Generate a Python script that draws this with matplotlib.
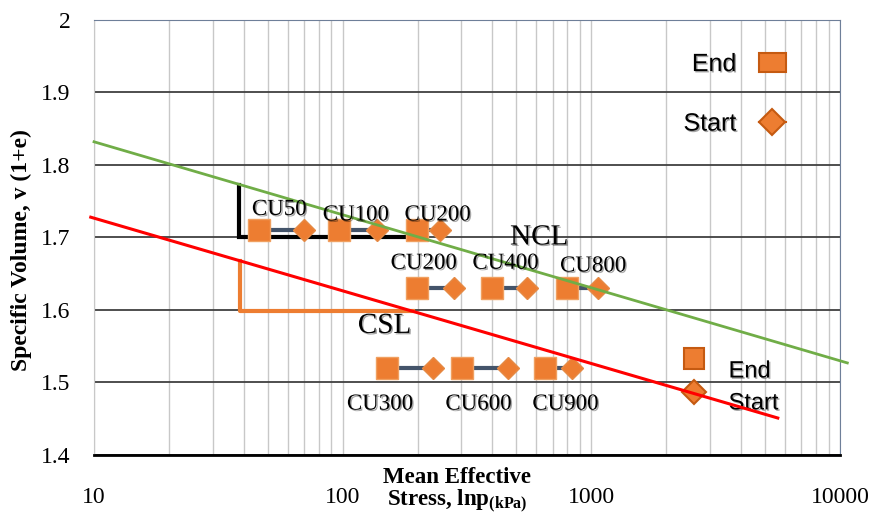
import matplotlib
matplotlib.use('Agg')
import matplotlib.pyplot as plt
import matplotlib.patheffects as pe
from matplotlib.lines import Line2D
from matplotlib.patches import Patch
from matplotlib.legend_handler import HandlerPatch, HandlerLine2D
from matplotlib.ticker import FormatStrFormatter, FixedLocator

plt.rcParams['font.family'] = 'Liberation Serif'
plt.rcParams['mathtext.fontset'] = 'custom'
plt.rcParams['mathtext.rm'] = 'Liberation Serif'
plt.rcParams['mathtext.bf'] = 'Liberation Serif:bold'

# CU tests: end (square) and start (diamond) states
tests = ['CU50', 'CU100', 'CU200', 'CU200', 'CU400', 'CU800', 'CU300', 'CU600', 'CU900']
p_end = [46, 97, 199, 199, 398, 798, 151, 302, 650]
p_start = [70, 137, 246, 281, 551, 1064, 231, 462, 836]
v_test = [1.71, 1.71, 1.71, 1.63, 1.63, 1.63, 1.52, 1.52, 1.52]

# normal consolidation line and critical state line
ncl_p = [10, 10700]
ncl_v = [1.832, 1.527]
csl_p = [9.7, 5620]
csl_v = [1.728, 1.451]

# slope triangles
ncl_tri_p = [38.3, 38.3, 205]
ncl_tri_v = [1.773, 1.70, 1.70]
csl_tri_p = [38.6, 38.6, 192]
csl_tri_v = [1.667, 1.598, 1.598]

yticks = [1.4, 1.5, 1.6, 1.7, 1.8, 1.9, 2.0]
xticks = [10, 100, 1000, 10000]

# label offsets (points) from the end marker
lab_off = [(-5, 15), (-12, 11), (-9, 11), (-19, 18), (-14, 18), (-5, 16),
           (-29, -26), (-12, -26), (-9, -26)]

orange = '#ED7D31'
dark_orange = '#C55A11'
slate = '#44546A'

shadow = [pe.SimplePatchShadow(offset=(1, -1), alpha=0.35), pe.Normal()]


class RaisedPatch(HandlerPatch):
    def __init__(self, dy, **kw):
        super().__init__(**kw)
        self.dy = dy

    def create_artists(self, legend, orig_handle, xdescent, ydescent,
                       width, height, fontsize, trans):
        return super().create_artists(legend, orig_handle, xdescent, ydescent - self.dy,
                                      width, height, fontsize, trans)


class RaisedLine(HandlerLine2D):
    def __init__(self, dy, **kw):
        super().__init__(**kw)
        self.dy = dy

    def create_artists(self, legend, orig_handle, xdescent, ydescent,
                       width, height, fontsize, trans):
        # line y sits at (height - ydescent) / 2
        return super().create_artists(legend, orig_handle, xdescent, ydescent - 2 * self.dy,
                                      width, height, fontsize, trans)


fig = plt.figure(figsize=(8.74, 5.14), dpi=100)
ax = fig.add_axes([0.1076, 0.1148, 0.8535, 0.8463])
ax.set_xscale('log')
ax.set_xlim(10, 10000)
ax.set_ylim(1.4, 2.0)

ax.grid(True, which='both', axis='x', color='#C8C8C8', lw=1, zorder=0)
ax.grid(True, which='major', axis='y', color='#404040', lw=1.3, zorder=0)
ax.set_axisbelow(True)

ax.yaxis.set_major_locator(FixedLocator(yticks))
ax.yaxis.set_major_formatter(FormatStrFormatter('%g'))
ax.set_xticks(xticks)
ax.set_xticklabels([str(t) for t in xticks])
ax.tick_params(axis='both', which='both', length=0, labelsize=17)
ax.tick_params(axis='y', pad=17)
ax.tick_params(axis='x', pad=23)

ax.spines['top'].set_color('#6E7F99')
ax.spines['right'].set_color('#6E7F99')
ax.spines['left'].set_color('#C8C8C8')
ax.spines['bottom'].set_color('black')
ax.spines['bottom'].set_linewidth(2)

# slope triangles
ax.plot(ncl_tri_p, ncl_tri_v, color='black', lw=3, zorder=2, solid_joinstyle='miter')
ax.plot(csl_tri_p, csl_tri_v, color=orange, lw=3, zorder=2, solid_joinstyle='round')

# tests
for name, pe_, ps, v, off in zip(tests, p_end, p_start, v_test, lab_off):
    ax.plot([pe_, ps], [v, v], color=slate, lw=3, zorder=3)
    ax.plot(pe_, v, marker='s', ms=16.5, color=orange, mec='#F0A060', mew=1, zorder=4)
    ax.plot(ps, v, marker='D', ms=11, color=orange, mec='#E58A45', mew=1, zorder=4)
    ax.annotate(name, (pe_, v), xytext=off, textcoords='offset points',
                fontsize=16.5, ha='left', va='center', zorder=6, path_effects=shadow)

ax.plot(ncl_p, ncl_v, color='#70AD47', lw=2, zorder=5, clip_on=False)
ax.plot(csl_p, csl_v, color='red', lw=2.2, zorder=5, clip_on=False)

ax.text(471, 1.70, 'NCL', fontsize=21, ha='left', va='center', zorder=6, path_effects=shadow)
ax.text(115, 1.578, 'CSL', fontsize=21, ha='left', va='center', zorder=6, path_effects=shadow)

ax.set_xlabel('Mean Effective\n' + r'Stress, lnp$_{\mathbf{(kPa)}}$', fontsize=16.5,
              fontweight='bold', linespacing=1.0)
ax.xaxis.set_label_coords(0.487, -0.027)
ax.set_ylabel('Specific Volume, v (1+e)', fontsize=17, fontweight='bold')
ax.yaxis.set_label_coords(-0.083, 0.47)

# legend, top right
h_end = Patch(facecolor=orange, edgecolor=dark_orange, lw=1.5)
h_start = Line2D([], [], color=dark_orange, lw=1.5, marker='D', ms=13,
                 mfc=orange, mec=dark_orange, mew=1.5)
leg1 = ax.legend([h_end, h_start], ['End', 'Start'], loc='upper left',
                 bbox_to_anchor=(0.760, 0.978), frameon=False, markerfirst=False,
                 prop={'family': 'Liberation Sans', 'size': 18}, handlelength=1.1,
                 handleheight=0.75, labelspacing=1.42, handletextpad=0.9)
for t in leg1.get_texts():
    t.set_path_effects(shadow)
ax.add_artist(leg1)

# legend, lower right (handles sit a little above their labels)
h_end2 = Patch(facecolor=orange, edgecolor=dark_orange, lw=1.5)
h_start2 = Line2D([], [], color=dark_orange, lw=1.5, marker='D', ms=12.5,
                  mfc=orange, mec=dark_orange, mew=1.5)
leg2 = ax.legend([h_end2, h_start2], ['End', 'Start'], loc='upper left',
                 bbox_to_anchor=(0.762, 0.27), frameon=False,
                 prop={'family': 'Liberation Sans', 'size': 17}, handlelength=0.85,
                 handleheight=1.0, labelspacing=0.35, handletextpad=1.05,
                 handler_map={h_end2: RaisedPatch(8),
                              h_start2: RaisedLine(6)})
leg2.set_zorder(2)
for t in leg2.get_texts():
    t.set_path_effects(shadow)

fig.savefig('out.png', dpi=100)
